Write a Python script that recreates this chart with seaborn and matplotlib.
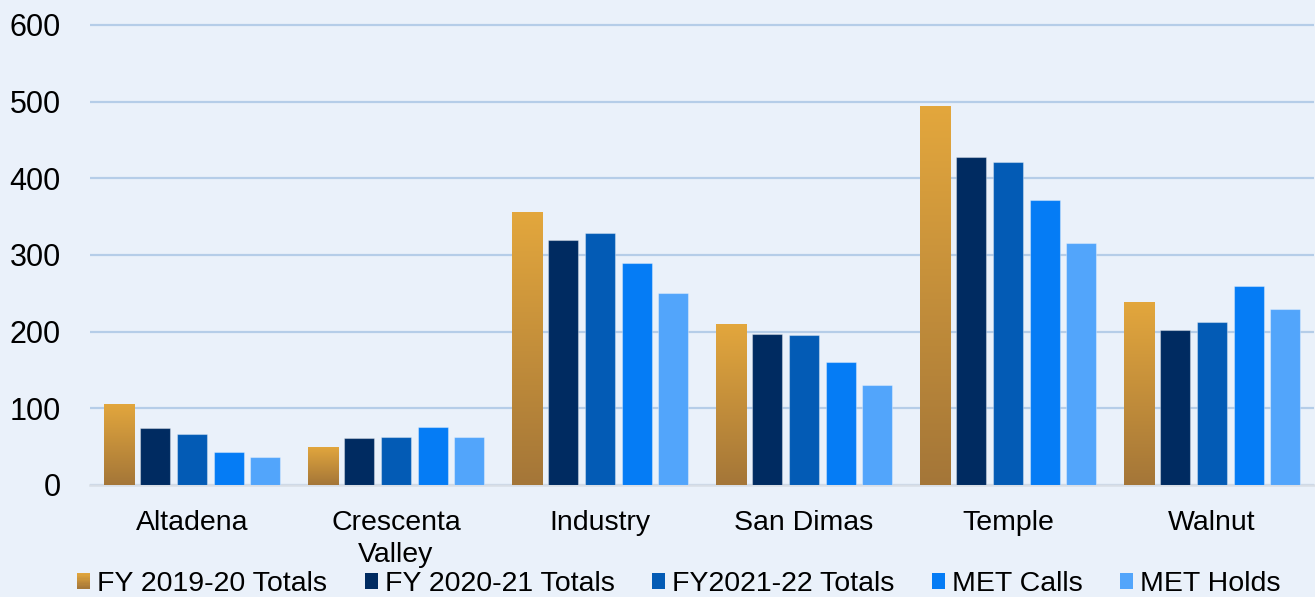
import numpy as np
import pandas as pd
import matplotlib
matplotlib.use("Agg")
import matplotlib.pyplot as plt
import seaborn as sns
from matplotlib.colors import LinearSegmentedColormap
from matplotlib.patches import Patch, Rectangle
from matplotlib.legend_handler import HandlerBase

categories = ["Altadena", "Crescenta\nValley", "Industry", "San Dimas", "Temple", "Walnut"]
series_names = ["FY 2019-20 Totals", "FY 2020-21 Totals", "FY2021-22 Totals", "MET Calls", "MET Holds"]
fy1920 = [106, 50, 356, 210, 494, 239]
fy2021 = [74, 61, 319, 197, 428, 202]
fy2122 = [66, 62, 329, 195, 421, 212]
met_calls = [43, 76, 289, 160, 372, 259]
met_holds = [37, 62, 251, 130, 315, 229]
y_ticks = [0, 100, 200, 300, 400, 500, 600]

colors = ["#CC923F", "#002B61", "#035BB5", "#057CF5", "#52A5FB"]
gold_top, gold_bottom = "#E3A73D", "#A47638"
bg = "#EAF1FA"

rows = []
for name, vals in zip(series_names, [fy1920, fy2021, fy2122, met_calls, met_holds]):
    for c, v in zip(categories, vals):
        rows.append({"region": c, "series": name, "value": v})
df = pd.DataFrame(rows)

sns.set_theme(style="white")
plt.rcParams["font.family"] = ["Liberation Sans", "DejaVu Sans"]

fig = plt.figure(figsize=(13.15, 5.97), dpi=100, facecolor=bg)
ax = fig.add_axes([90 / 1315, 1 - 485 / 597, 1224 / 1315, (485 - 17.3) / 597])
ax.set_facecolor(bg)

sns.barplot(data=df, x="region", y="value", hue="series", order=categories,
            hue_order=series_names, palette=colors, saturation=1, width=0.9, gap=0.18,
            legend=False, ax=ax, edgecolor=(1, 1, 1, 0.35), linewidth=0.8, zorder=3)

ax.set_ylim(0, 610)
ax.set_xlim(-0.5, 5.5)

# gradient fill for the first series
cmap = LinearSegmentedColormap.from_list("gold", [gold_bottom, gold_top])
grad = np.linspace(0, 1, 256).reshape(-1, 1)
for p in ax.containers[0]:
    x0, w, h = p.get_x(), p.get_width(), p.get_height()
    im = ax.imshow(grad, extent=[x0, x0 + w, 0, h], origin="lower", aspect="auto",
                   cmap=cmap, zorder=3.5, interpolation="bilinear")
    im.set_clip_path(p)
ax.set_ylim(0, 610)
ax.set_xlim(-0.5, 5.5)

ax.set_yticks(y_ticks)
ax.yaxis.grid(True, color="#B5CDE8", linewidth=1.6, zorder=0)
ax.set_axisbelow(True)
for s in ["top", "right", "left"]:
    ax.spines[s].set_visible(False)
ax.spines["bottom"].set_color("#D8DEE6")
ax.spines["bottom"].set_linewidth(1.8)
ax.tick_params(axis="y", length=0, labelsize=22, pad=21, labelcolor="black")
ax.tick_params(axis="x", length=0, labelsize=20.5, pad=18, labelcolor="black")
for t in ax.get_xticklabels():
    t.set_linespacing(1.28)
ax.set_xlabel("")
ax.set_ylabel("")


class GradientHandler(HandlerBase):
    def create_artists(self, legend, orig_handle, xdescent, ydescent, width, height,
                       fontsize, trans):
        n = 12
        arts = []
        for i in range(n):
            c = cmap((i + 0.5) / n)
            r = Rectangle((-xdescent, -ydescent + height * i / n), width, height / n + 0.01,
                          facecolor=c, edgecolor="none", transform=trans)
            arts.append(r)
        return arts


handles = [Patch(facecolor=c, edgecolor="none", label=n) for c, n in zip(colors, series_names)]
fig.legend(handles=handles, loc="center", bbox_to_anchor=(679 / 1315, 1 - 584 / 597), ncol=5,
           frameon=False, fontsize=20.5, handlelength=0.46, handleheight=0.46,
           handletextpad=0.25, columnspacing=1.31, borderpad=0, labelcolor="black",
           handler_map={handles[0]: GradientHandler()})

fig.savefig("out.png", dpi=100, facecolor=bg)
